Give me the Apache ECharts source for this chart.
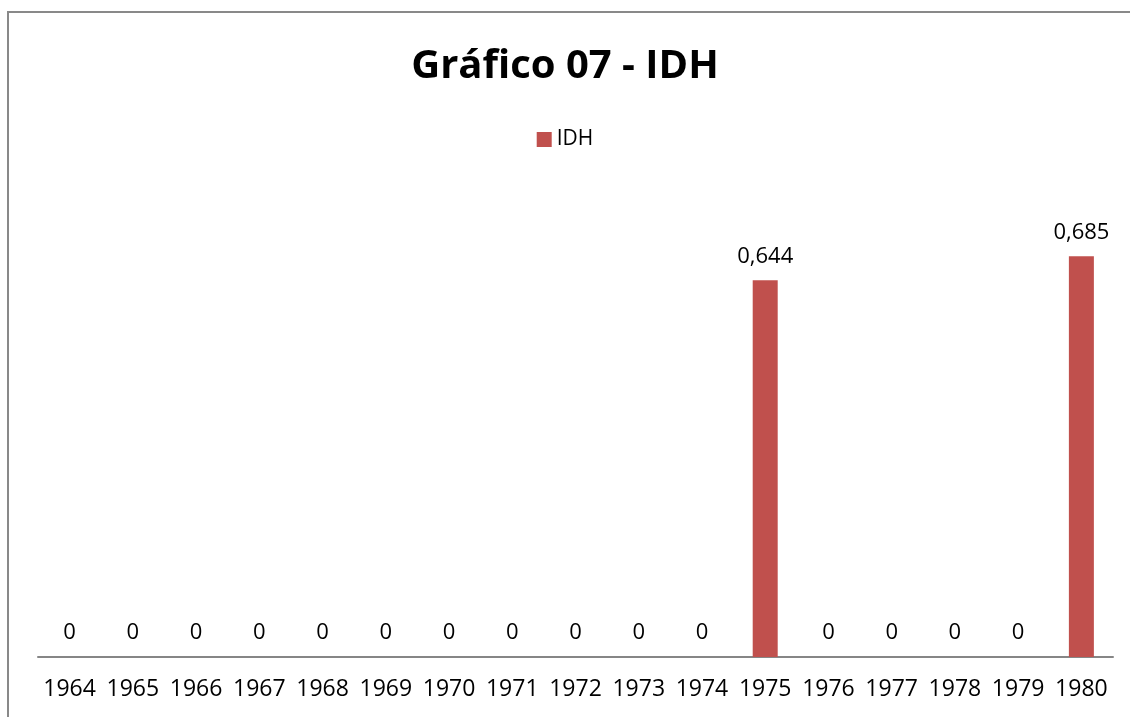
<!DOCTYPE html>
<html>
<head>
<meta charset="utf-8">
<script src="https://cdn.jsdelivr.net/npm/echarts@6/dist/echarts.min.js"></script>
<style>
  html, body { margin: 0; padding: 0; background: #fff; overflow: hidden; width: 1130px; height: 717px; }
  #frame {
    position: absolute; left: 7px; top: 11px;
    width: 1140px; height: 720px;
    border: 2px solid #898989; box-sizing: border-box;
  }
  #chart { position: absolute; left: 0; top: 0; width: 1130px; height: 717px; }
</style>
</head>
<body>
<div id="frame"></div>
<div id="chart"></div>
<script>
// anos e valores do IDH
const anos = ["1964", "1965", "1966", "1967", "1968", "1969", "1970", "1971", "1972",
  "1973", "1974", "1975", "1976", "1977", "1978", "1979", "1980"];
const idh = [0, 0, 0, 0, 0, 0, 0, 0, 0, 0, 0, 0.644, 0, 0, 0, 0, 0.685];

const fonte = "Open Sans";
const chart = echarts.init(document.getElementById("chart"));

chart.setOption({
  animation: false,
  title: {
    text: "Gráfico 07 - IDH",
    left: "center",
    top: 42,
    textStyle: { fontFamily: fonte, fontSize: 40, fontWeight: "bold", color: "#000" }
  },
  legend: {
    top: 124,
    left: "center",
    itemWidth: 15,
    itemHeight: 15,
    itemGap: 6,
    icon: "rect",
    textStyle: { fontFamily: fonte, fontSize: 21, color: "#000" },
    data: ["IDH"]
  },
  grid: { left: 38, right: 17, top: 189, bottom: 60 },
  xAxis: {
    type: "category",
    data: anos,
    axisLine: { lineStyle: { color: "#868686", width: 2 } },
    axisTick: { show: false },
    axisLabel: { fontFamily: fonte, fontSize: 23, color: "#000", margin: 21, interval: 0 }
  },
  yAxis: {
    type: "value",
    min: 0,
    max: 0.8,
    show: false,
    splitLine: { show: false }
  },
  series: [
    {
      name: "IDH",
      type: "bar",
      data: idh,
      barWidth: 25,
      itemStyle: { color: "#C0504D" },
      label: {
        show: true,
        position: "top",
        distance: 13,
        fontFamily: fonte,
        fontSize: 22,
        color: "#000",
        formatter: p => String(p.value).replace(".", ",")
      }
    }
  ]
});
</script>
</body>
</html>
